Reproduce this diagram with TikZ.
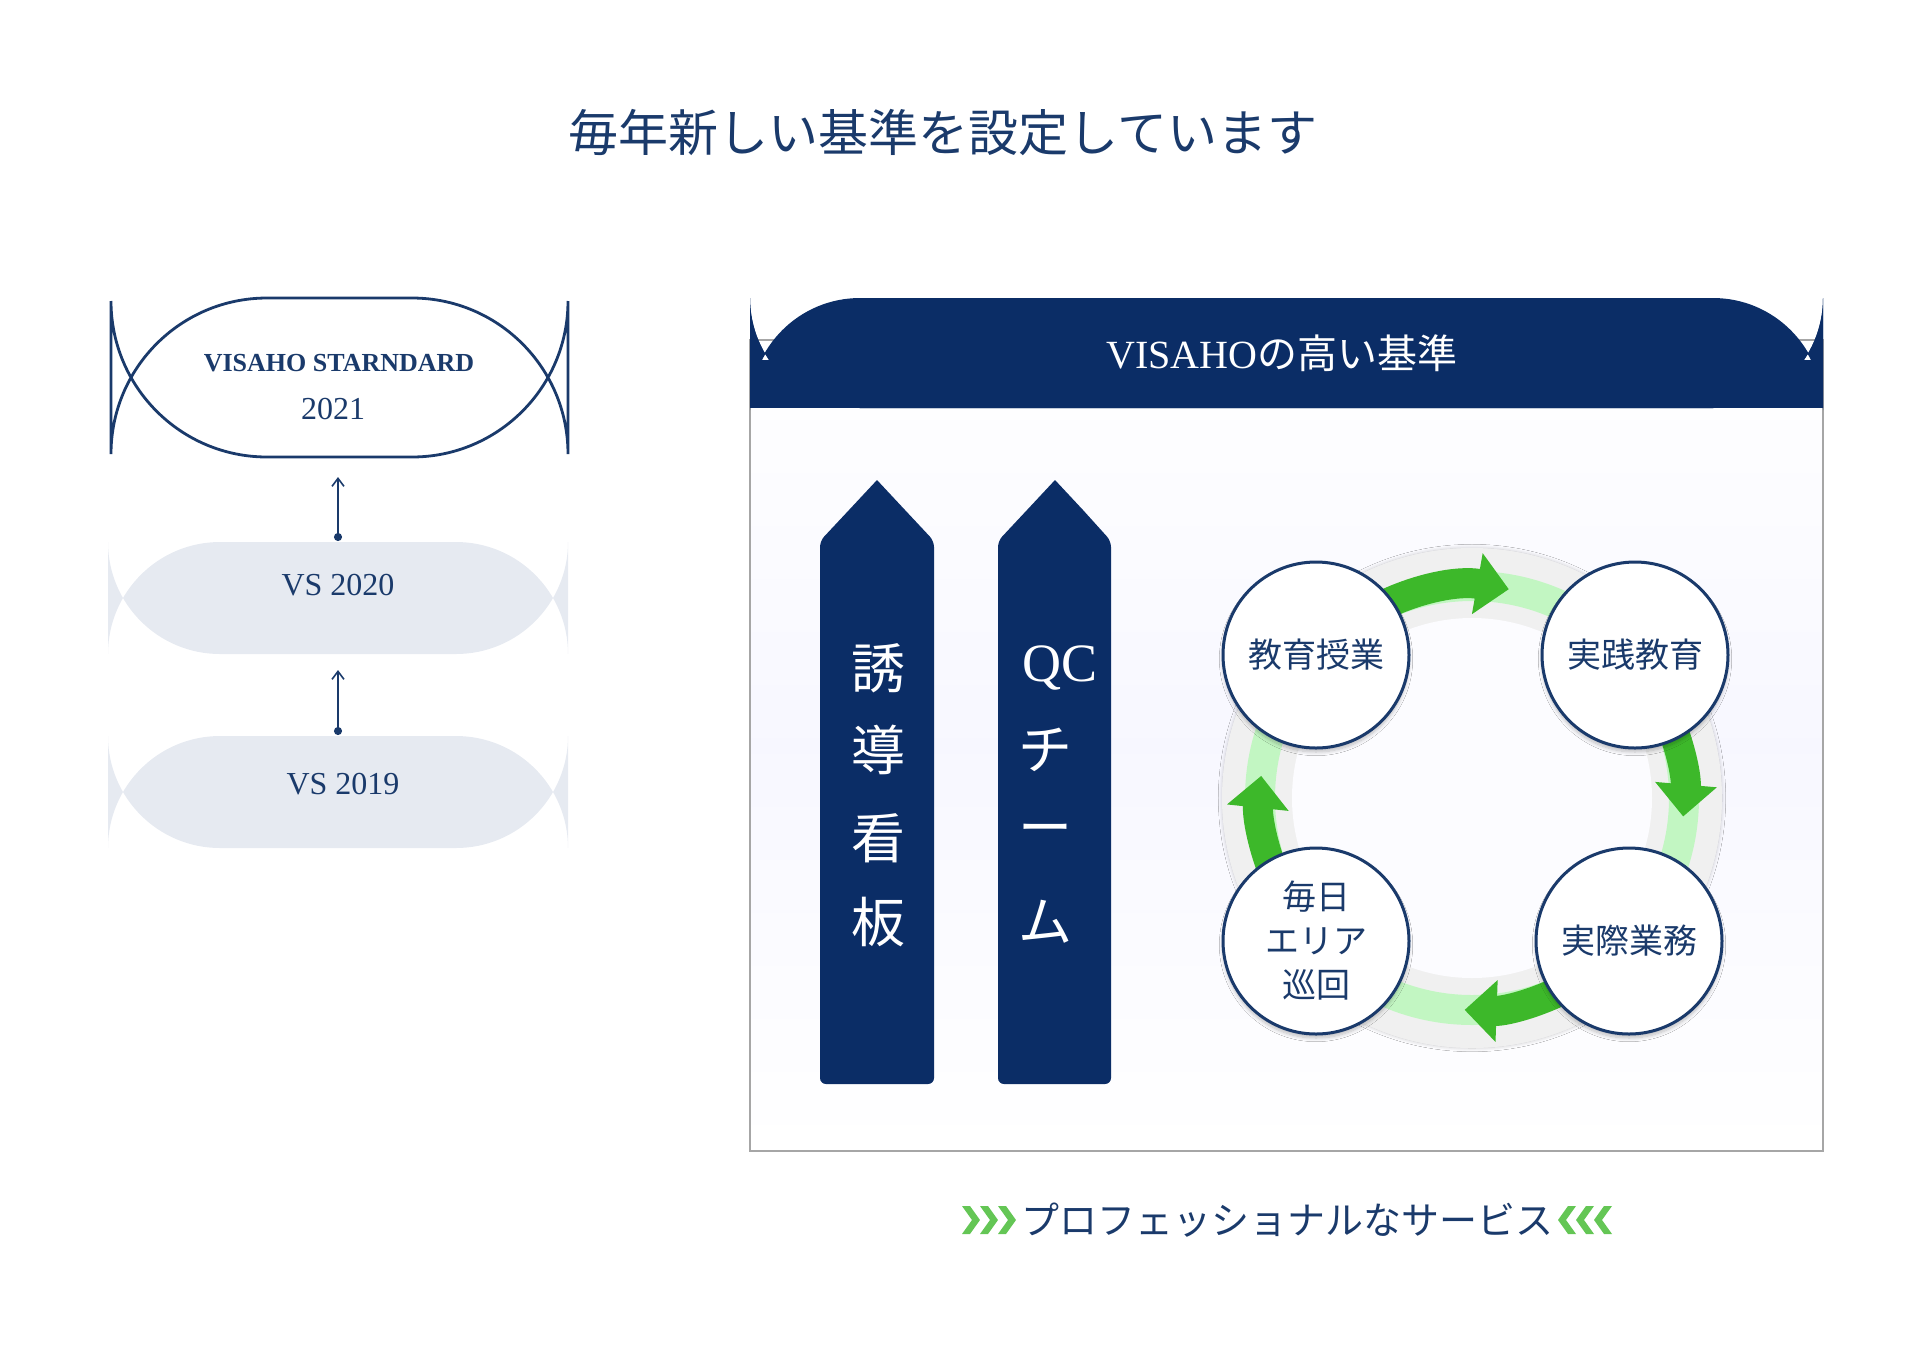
\documentclass[tikz,border=0pt]{standalone}
\usepackage{fontspec}
\setmainfont{Liberation Serif}
\newfontfamily\cjk{Noto Sans CJK JP}
\usetikzlibrary{arrows.meta,shadows.blur}
\definecolor{navy}{HTML}{0B2D66}
\definecolor{ink}{HTML}{1A3A6B}
\definecolor{pill}{HTML}{E6EAF1}
\definecolor{grn}{HTML}{3DB82A}
\begin{document}
\begin{tikzpicture}[x=0.5pt,y=-0.5pt,
  jp/.style={font=\cjk},
  cyc/.style={circle,draw=ink,line width=1.5pt,fill=white,minimum size=93pt,inner sep=0pt,align=center,text=ink,font=\cjk\fontsize{17}{22}\selectfont,blur shadow={shadow blur steps=8,shadow xshift=0pt,shadow yshift=-2pt,shadow opacity=25}},
  band/.style={line width=15pt,green!45!white,opacity=0.45},
  garr/.style={line width=15pt,grn,-{Triangle[width=30pt,length=16pt]}},
  pillar/.style={fill=navy},
  ptxt/.style={text=white,font=\cjk\fontsize{27}{30}\selectfont},
  up/.style={ink,line width=0.8pt,{Circle[length=4pt]}-{Straight Barb[length=4pt,width=6pt]}}]
\useasboundingbox (0,0) rectangle (1918,1351);
% title
\node[text=ink,font=\cjk\fontsize{25}{30}\selectfont] (title) at (943,132) {毎年新しい基準を設定しています};
% left column
\draw[ink,line width=1.4pt,fill=white,rounded corners=78pt] (111,298) rectangle (568,457);
\node[text=ink,font=\bfseries\fontsize{13}{15}\selectfont] (vsn) at (339,363) {VISAHO STARNDARD};
\node[text=ink,font=\fontsize{16}{18}\selectfont] (v21) at (333,409) {2021};
\node[fill=pill,rounded corners=56pt,minimum width=230pt,minimum height=56pt] (v20) at (338,598) {};
\node[text=ink,font=\fontsize{16}{18}\selectfont] at (338,585) {VS 2020};
\node[fill=pill,rounded corners=56pt,minimum width=230pt,minimum height=56pt] (v19) at (338,792) {};
\node[text=ink,font=\fontsize{16}{18}\selectfont] at (343,784) {VS 2019};
\coordinate (a1s) at (338,541); \coordinate (a1e) at (338,477);
\coordinate (a2s) at (338,735); \coordinate (a2e) at (338,670);
\draw[up] (a1s) -- (a1e);
\draw[up] (a2s) -- (a2e);
% right panel
\draw[gray!70,line width=0.8pt,top color=white,bottom color=white,middle color=blue!3] (750,340) rectangle (1823,1151);
\fill[navy,rounded corners=55pt] (750,298) rectangle (1823,408);
\fill[navy] (750,360) rectangle (1823,408);
\fill[navy,rounded corners=55pt] (750,300) rectangle (1823,408);
\node[text=white,font=\fontsize{20}{24}\selectfont] (hdr) at (1282,353) {VISAHO{\cjk の高い基準}};
% pillars
\fill[pillar,rounded corners=3pt] (820,1084) -- (820,541) -- (849,510) [sharp corners]-- (877,480) -- (905,510) [rounded corners=3pt]-- (934,541) -- (934,1084) -- cycle;
\fill[pillar,rounded corners=3pt] (998,1084) -- (998,541) -- (1027,510) [sharp corners]-- (1055,480) -- (1083,510) [rounded corners=3pt]-- (1111,541) -- (1111,1084) -- cycle;
\node[ptxt] at (878,668) {誘}; \node[ptxt] at (878,750) {導};
\node[ptxt] at (878,838) {看}; \node[ptxt] at (878,922) {板};
\node[ptxt,font=\fontsize{27}{30}\selectfont] at (1060,668) {QC};
\node[ptxt] at (1045,750) {チ}; \node[ptxt] at (1045,836) {ー}; \node[ptxt] at (1045,922) {ム};
% cycle
\coordinate (cc) at (1472,798);
\fill[gray!12,blur shadow={shadow blur steps=10,shadow xshift=0pt,shadow yshift=0pt,shadow opacity=20}] (1472,798) circle[radius=250];
\fill[white!70!blue!4] (1472,798) circle[radius=180];
\draw[band] (cc) circle[radius=212];
\draw[garr] (cc) ++(-125:212) arc[start angle=-125,end angle=-80,radius=212];
\draw[garr] (cc) ++(-28:212) arc[start angle=-28,end angle=5,radius=212];
\draw[garr] (cc) ++(58:212) arc[start angle=58,end angle=92,radius=212];
\draw[garr] (cc) ++(152:212) arc[start angle=152,end angle=186,radius=212];
\node[cyc] (c1) at (1316,655) {教育授業};
\node[cyc] (c2) at (1635,655) {実践教育};
\node[cyc] (c3) at (1629,941) {実際業務};
\node[cyc] (c4) at (1316,941) {毎日\\エリア\\巡回};
% bottom
\node[text=ink,font=\cjk\fontsize{19}{22}\selectfont] (svc) at (1287,1220) {プロフェッショナルなサービス};
\foreach \x in {962,980,998}{
  \fill[grn!80!white] (\x,1206) -- (\x+8,1206) -- (\x+18,1220) -- (\x+8,1234) -- (\x,1234) -- (\x+10,1220) -- cycle;}
\foreach \x in {1612,1594,1576}{
  \fill[grn!80!white] (\x,1206) -- (\x-8,1206) -- (\x-18,1220) -- (\x-8,1234) -- (\x,1234) -- (\x-10,1220) -- cycle;}
\end{tikzpicture}
\end{document}
